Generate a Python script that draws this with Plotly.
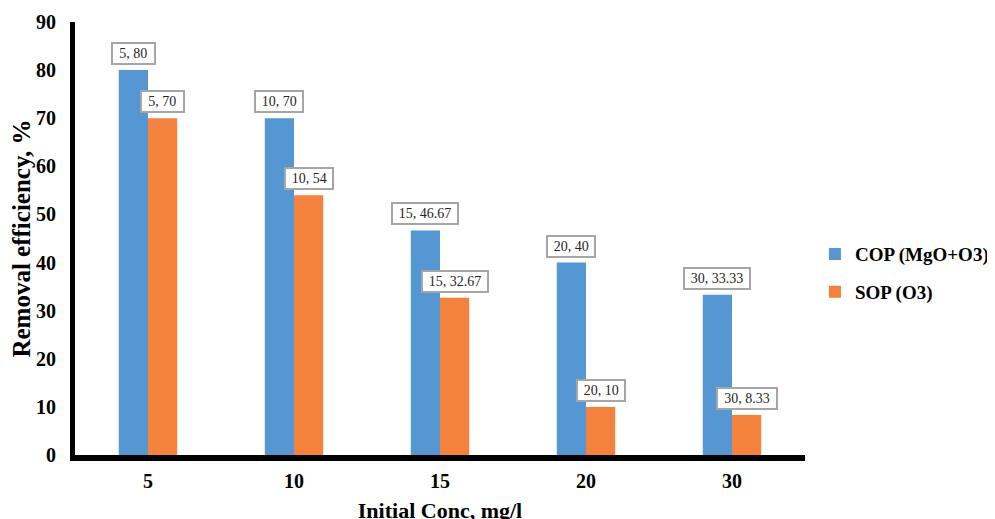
import plotly.graph_objects as go

categories = ["5", "10", "15", "20", "30"]
cop_values = [80, 70, 46.67, 40, 33.33]
sop_values = [70, 54, 32.67, 10, 8.33]
cop_name = "COP (MgO+O3)"
sop_name = "SOP (O3)"
y_ticks = [0, 10, 20, 30, 40, 50, 60, 70, 80, 90]

BLUE = "#5597D3"
ORANGE = "#F4823C"
SERIF = "Liberation Serif, Times New Roman, serif"

fig = go.Figure()
fig.add_trace(go.Bar(x=categories, y=cop_values, name=cop_name, marker_color=BLUE,
                     marker_line_width=0, legendgroup="a"))
fig.add_trace(go.Bar(x=categories, y=sop_values, name=sop_name, marker_color=ORANGE,
                     marker_line_width=0, legendgroup="b"))

def fmt(v):
    s = ("%.2f" % v).rstrip("0").rstrip(".")
    return s

bar_px = 29.3
for vals, shift in ((cop_values, -bar_px / 2), (sop_values, bar_px / 2)):
    for i, (c, v) in enumerate(zip(categories, vals)):
        txt = f"{c}, {fmt(v)}"
        fig.add_annotation(x=i, y=v, xref="x", yref="y", text=txt, showarrow=False,
                           xshift=shift, yshift=5, yanchor="bottom",
                           font=dict(family=SERIF, size=14, color="#262626"),
                           bgcolor="white", bordercolor="#A6A6A6", borderwidth=2,
                           borderpad=1, width=len(txt) * 5.9 + 9, height=17)

fig.update_layout(
    width=995, height=519,
    margin=dict(l=67, r=198, t=14, b=72),
    plot_bgcolor="white", paper_bgcolor="white",
    barmode="group", bargap=0.6, bargroupgap=0,
    font=dict(family=SERIF, color="black"),
    legend=dict(xref="container", yref="container", x=0.811, y=0.489,
                xanchor="left", yanchor="middle",
                font=dict(family=SERIF, size=19, color="black", weight="bold"),
                tracegroupgap=10, itemwidth=30),
    showlegend=True,
)
fig.update_xaxes(type="category", range=[-0.5, len(categories) - 0.5], automargin=False,
                 showline=True, linecolor="black", linewidth=6,
                 ticks="outside", ticklen=3, tickcolor="rgba(0,0,0,0)",
                 tickfont=dict(family=SERIF, size=20, color="black", weight="bold"),
                 title=dict(text="Initial Conc, mg/l", standoff=14,
                            font=dict(family=SERIF, size=22, color="black", weight="bold")))
fig.update_yaxes(range=[0, 90], tickvals=y_ticks, showgrid=False, zeroline=False, automargin=False,
                 showline=True, linecolor="black", linewidth=5,
                 ticks="outside", ticklen=10, tickcolor="rgba(0,0,0,0)",
                 tickfont=dict(family=SERIF, size=20, color="black", weight="bold"),
                 title=dict(text="Removal efficiency, %", standoff=0,
                            font=dict(family=SERIF, size=25, color="black", weight="bold")))

fig.write_html("out.html")
